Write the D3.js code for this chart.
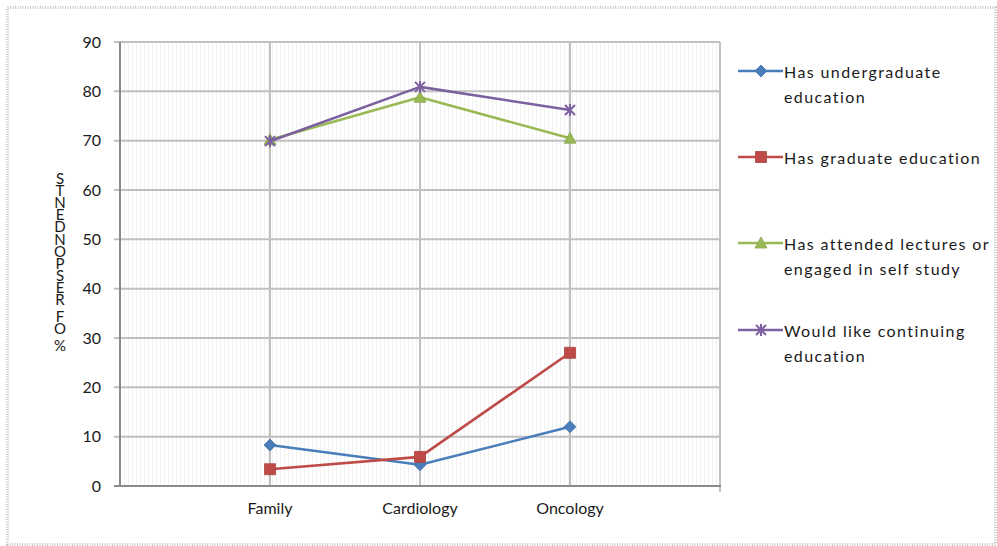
<!DOCTYPE html>
<html>
<head>
<meta charset="utf-8">
<script src="https://cdn.jsdelivr.net/npm/d3@7"></script>
<style>
  html, body { margin: 0; padding: 0; background: #ffffff; }
  svg { display: block; }
  text { font-family: Lato, "Open Sans", sans-serif; fill: #1a1a1a; }
</style>
</head>
<body>
<svg id="chart" width="997" height="546"></svg>
<script>
// Categories and series values (percent of respondents)
const categories = ["Family", "Cardiology", "Oncology"];
const undergraduate = [8.3, 4.3, 12.0];
const graduate = [3.4, 5.9, 27.0];
const lectures = [70.2, 78.8, 70.5];
const continuing = [69.9, 80.9, 76.2];
const yTicks = [0, 10, 20, 30, 40, 50, 60, 70, 80, 90];
const yLabel = "% OF RESPONDENTS";

const series = [
  { name: ["Has undergraduate", "education"], values: undergraduate, color: "#4A7EBB", marker: "diamond" },
  { name: ["Has graduate education"], values: graduate, color: "#BE4B48", marker: "square" },
  { name: ["Has attended lectures or", "engaged in self study"], values: lectures, color: "#98B954", marker: "triangle" },
  { name: ["Would like continuing", "education"], values: continuing, color: "#7D60A0", marker: "star" }
];

const svg = d3.select("#chart");
const plot = { left: 120, top: 42, right: 720, bottom: 486 };

// Outer dotted frame
svg.append("rect")
  .attr("x", 7.5).attr("y", 7.5).attr("width", 988).attr("height", 537)
  .attr("fill", "none").attr("stroke", "#c8c8c8").attr("stroke-width", 3)
  .attr("stroke-dasharray", "1,1.5");

const x = d3.scalePoint().domain(categories).range([plot.left, plot.right]).padding(1);
const y = d3.scaleLinear().domain([0, 90]).range([plot.bottom, plot.top]);

// Faint vertical texture in the plot area
const defs = svg.append("defs");
const pat = defs.append("pattern").attr("id", "stripes")
  .attr("patternUnits", "userSpaceOnUse").attr("width", 4).attr("height", 4);
pat.append("rect").attr("width", 4).attr("height", 4).attr("fill", "#ffffff");
pat.append("rect").attr("x", 0).attr("width", 1).attr("height", 4).attr("fill", "#f1f1f1");
svg.append("rect")
  .attr("x", plot.left).attr("y", plot.top)
  .attr("width", plot.right - plot.left).attr("height", plot.bottom - plot.top)
  .attr("fill", "url(#stripes)");

// Horizontal gridlines
svg.append("g").selectAll("line").data(yTicks.filter(d => d > 0)).join("line")
  .attr("x1", plot.left - 6).attr("x2", plot.right)
  .attr("y1", d => y(d)).attr("y2", d => y(d))
  .attr("stroke", "#c0c0c0").attr("stroke-width", 2);

// Vertical gridlines at categories and plot border on the right
svg.append("g").selectAll("line").data(categories).join("line")
  .attr("x1", d => x(d)).attr("x2", d => x(d))
  .attr("y1", plot.top).attr("y2", plot.bottom)
  .attr("stroke", "#c0c0c0").attr("stroke-width", 2);
svg.append("line")
  .attr("x1", plot.right).attr("x2", plot.right)
  .attr("y1", plot.top).attr("y2", plot.bottom + 6)
  .attr("stroke", "#c0c0c0").attr("stroke-width", 2);

// Axis lines
const axisColor = "#8a8a8a";
svg.append("line").attr("x1", plot.left).attr("x2", plot.left)
  .attr("y1", plot.top).attr("y2", plot.bottom + 1)
  .attr("stroke", axisColor).attr("stroke-width", 2);
svg.append("line").attr("x1", plot.left - 6).attr("x2", plot.right + 1)
  .attr("y1", plot.bottom).attr("y2", plot.bottom)
  .attr("stroke", axisColor).attr("stroke-width", 2);

// Y tick labels
svg.append("g").selectAll("text").data(yTicks).join("text")
  .attr("x", 101).attr("y", d => y(d) + 5.5)
  .attr("text-anchor", "end").attr("font-size", 16)
  .text(d => d);

// X tick labels
svg.append("g").selectAll("text").data(categories).join("text")
  .attr("x", d => x(d)).attr("y", 514)
  .attr("text-anchor", "middle").attr("font-size", 16)
  .text(d => d);

// Y-axis title: upright stacked letters, reading from the bottom up.
// One text element with a position per glyph; spaces take a shorter step.
const stacked = Array.from(yLabel).reverse();
const glyphStep = 12.1, spaceStep = 5;
let cy = 184;
const ys = [];
stacked.forEach((c, i) => {
  if (i > 0) cy += (c === " " || stacked[i - 1] === " ") ? (c === " " ? spaceStep : glyphStep) : glyphStep;
  ys.push(cy.toFixed(1));
});
svg.append("text")
  .attr("x", stacked.map(() => 60).join(" "))
  .attr("y", ys.join(" "))
  .attr("text-anchor", "middle").attr("font-size", 15)
  .text(stacked.join(""));

// Marker shapes
function markerPath(type) {
  switch (type) {
    case "diamond": return "M0,-6L6,0L0,6L-6,0Z";
    case "square": return "M-5.5,-5.5H5.5V5.5H-5.5Z";
    case "triangle": return "M0,-6L6,5H-6Z";
    case "star": return "M-5,-5L5,5M-5,5L5,-5M0,-6V6";
  }
}
function drawMarker(g, type, color, cx, cy) {
  const p = g.append("path").attr("d", markerPath(type))
    .attr("transform", `translate(${cx},${cy})`);
  if (type === "star") p.attr("fill", "none").attr("stroke", color).attr("stroke-width", 2);
  else p.attr("fill", color).attr("stroke", d3.color(color).darker(0.3)).attr("stroke-width", 0.8);
}

// Series lines and markers
const line = d3.line().x((d, i) => x(categories[i])).y(d => y(d));
series.forEach(s => {
  const g = svg.append("g");
  g.append("path").datum(s.values).attr("d", line)
    .attr("fill", "none").attr("stroke", s.color).attr("stroke-width", 2.6)
    .attr("stroke-linejoin", "round");
  s.values.forEach((v, i) => drawMarker(g, s.marker, s.color, x(categories[i]), y(v)));
});

// Legend
const legendY = [71, 157, 243, 330];
series.forEach((s, k) => {
  const g = svg.append("g");
  const ly = legendY[k];
  g.append("line").attr("x1", 738).attr("x2", 783).attr("y1", ly).attr("y2", ly)
    .attr("stroke", s.color).attr("stroke-width", 2.6);
  drawMarker(g, s.marker, s.color, 761, ly);
  s.name.forEach((t, j) => {
    g.append("text").attr("x", 784).attr("y", ly + 7 + j * 25)
      .attr("font-size", 16).attr("letter-spacing", 1.4)
      .text(t);
  });
});
</script>
</body>
</html>
